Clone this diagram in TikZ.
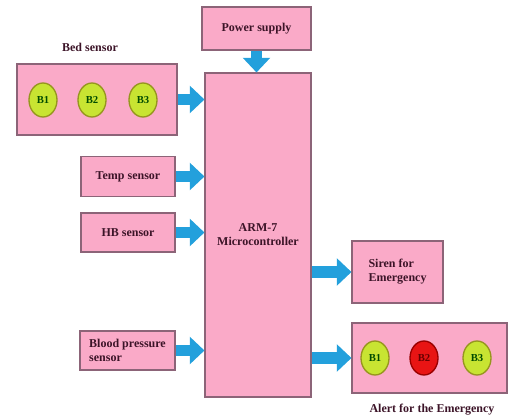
\documentclass[tikz,border=0pt]{standalone}
\usepackage{fontspec}
\setmainfont{Liberation Serif}
\usetikzlibrary{arrows.meta,shapes.geometric}

\definecolor{boxpink}{RGB}{250,170,200}
\definecolor{boxline}{RGB}{140,100,120}
\definecolor{txtdark}{RGB}{60,20,40}
\definecolor{arrowblue}{RGB}{35,160,220}
\definecolor{btngreen}{RGB}{200,228,50}
\definecolor{btnline}{RGB}{150,150,30}
\definecolor{btnred}{RGB}{232,20,20}

\tikzset{
  blockbox/.style={draw=boxline, fill=boxpink, rectangle, inner sep=2pt, line width=0.8pt,
    text=txtdark, font=\fontsize{9}{10.5}\selectfont\bfseries},
  btn/.style={draw=btnline, fill=btngreen, ellipse, line width=1pt, minimum width=28*0.75pt,
    minimum height=34*0.75pt, inner sep=0pt, text=black!70!green, font=\fontsize{8}{9}\selectfont\bfseries},
  btnalarm/.style={btn, draw=red!60!black, fill=btnred, text=red!40!black},
  caption/.style={text=txtdark, font=\fontsize{9}{10.5}\selectfont\bfseries},
  fatarrow/.style={draw=arrowblue, line width=8.5pt, -{Triangle[length=11pt,width=20pt]}}
}

\begin{document}
\begin{tikzpicture}[x=0.75pt,y=0.75pt,yscale=-1,xscale=1]

		\useasboundingbox (0,0) rectangle (509,416);

		% Shape: Mikrocontroller
		\node [blockbox, minimum width=106*0.75pt, minimum height=324*0.75pt, align=center] (arm) at (258,235) {ARM-7\\Microcontroller};

		% Shape: Versorgung
		\node [blockbox, minimum width=109*0.75pt, minimum height=43*0.75pt] (power) at (256.5,28.5) {Power supply};

		% Shape: Bettsensor mit Tasten
		\node [blockbox, minimum width=160*0.75pt, minimum height=71*0.75pt] (bed) at (97,99.5) {};
		\node [caption] (bedlabel) at (90,47) {Bed sensor};
		\node [btn] (bedb1) at (43,100) {B1};
		\node [btn] (bedb2) at (92,100) {B2};
		\node [btn] (bedb3) at (143,100) {B3};

		% Shape: weitere Sensoren
		\node [blockbox, minimum width=94*0.75pt, minimum height=40*0.75pt] (temp) at (128,176.5) {Temp sensor};
		\node [blockbox, minimum width=94*0.75pt, minimum height=39*0.75pt] (hb) at (128,232.5) {HB sensor};
		\node [blockbox, minimum width=95*0.75pt, minimum height=39*0.75pt, align=left] (bp) at (127.5,350.5) {Blood pressure\\sensor};

		% Shape: Ausgaben
		\node [blockbox, minimum width=91*0.75pt, minimum height=62*0.75pt, align=left] (siren) at (397.5,272) {Siren for\\Emergency};
		\node [blockbox, minimum width=155*0.75pt, minimum height=70*0.75pt] (alert) at (429.5,358) {};
		\node [caption] (alertlabel) at (432,410) {Alert for the Emergency};
		\node [btn] (alertb1) at (375,358) {B1};
		\node [btnalarm] (alertb2) at (424,358) {B2};
		\node [btn] (alertb3) at (477,358) {B3};

		% Pfeile
		\draw [fatarrow] (power.south) -- (power.south |- arm.north);
		\draw [fatarrow] (bed.east) -- (bed.east -| arm.west);
		\draw [fatarrow] (temp.east) -- (temp.east -| arm.west);
		\draw [fatarrow] (hb.east) -- (hb.east -| arm.west);
		\draw [fatarrow] (bp.east) -- (bp.east -| arm.west);
		\draw [fatarrow] (siren.west -| arm.east) -- (siren.west);
		\draw [fatarrow] (alert.west -| arm.east) -- (alert.west);

\end{tikzpicture}
\end{document}
